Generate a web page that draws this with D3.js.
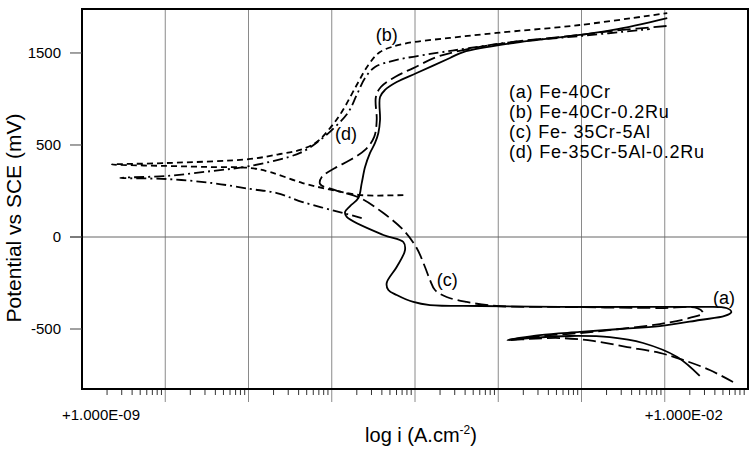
<!DOCTYPE html>
<meta charset="utf-8">
<style>
body { margin: 0; background: #fff; }
svg { font-family: "Liberation Sans", Arial, sans-serif; }
</style>
<svg width="756" height="452"></svg>
<script src="https://d3js.org/d3.v7.min.js"></script>
<script>
// log i (A/cm2) and potential (mV vs SCE)
var curveA = [[-1.58,-755],[-1.85,-652],[-2.26,-576],[-2.66,-544],[-3.14,-538],[-3.62,-549],[-3.89,-560],
  [-3.50,-533],[-3.02,-516],[-2.54,-500],[-2.06,-484],[-1.58,-451],[-1.28,-429],[-1.20,-408],[-1.26,-386],
  [-1.58,-380],[-2.30,-380],[-3.26,-380],[-4.22,-375],[-4.82,-370],[-5.02,-353],[-5.22,-315],[-5.32,-288],
  [-5.34,-250],[-5.22,-163],[-5.12,-71],[-5.14,-27],[-5.38,11],[-5.82,109],[-5.84,136],[-5.78,168],
  [-5.68,212],[-5.64,293],[-5.60,380],[-5.54,457],[-5.48,511],[-5.44,565],[-5.42,636],[-5.42,761],
  [-5.36,799],[-5.22,842],[-4.98,891],[-4.58,973],[-4.42,1005],[-3.82,1054],[-3.02,1098],[-2.62,1125],[-1.97,1190]];

var curveB = [[-5.14,228],[-5.66,228],[-5.99,255],[-6.35,293],[-6.74,353],[-6.98,375],[-7.43,380],[-7.98,386],
  [-8.64,394],[-7.98,402],[-6.98,424],[-6.62,451],[-6.38,473],[-6.18,516],[-6.02,592],[-5.88,679],
  [-5.70,826],[-5.56,935],[-5.42,1005],[-5.14,1049],[-4.58,1082],[-4.02,1109],[-3.02,1152],[-1.97,1217]];

var curveC = [[-1.18,-788],[-1.46,-723],[-1.78,-668],[-2.06,-630],[-2.45,-598],[-2.86,-565],[-3.26,-549],
  [-3.62,-554],[-3.89,-560],[-3.50,-538],[-3.02,-522],[-2.54,-500],[-2.06,-473],[-1.70,-440],[-1.54,-413],
  [-1.61,-386],[-2.06,-386],[-3.26,-380],[-4.02,-375],[-4.38,-353],[-4.62,-326],[-4.76,-288],[-4.82,-234],
  [-4.88,-163],[-4.98,-60],[-5.14,38],[-5.38,130],[-5.66,212],[-5.96,255],[-6.14,288],[-6.12,326],
  [-5.96,375],[-5.78,418],[-5.60,473],[-5.49,544],[-5.46,636],[-5.47,761],[-5.41,815],[-5.24,870],
  [-5.02,918],[-4.74,978],[-4.42,1016],[-3.82,1060],[-3.02,1098],[-2.62,1120],[-1.97,1147]];

var curveD = [[-5.64,103],[-5.86,130],[-6.35,190],[-6.66,239],[-6.98,261],[-7.43,293],[-7.98,315],[-8.54,321],
  [-7.98,332],[-7.43,359],[-6.98,386],[-6.38,457],[-6.14,527],[-5.96,598],[-5.80,679],[-5.70,772],
  [-5.60,864],[-5.48,924],[-5.22,962],[-4.74,1000],[-4.34,1027],[-3.82,1060],[-3.02,1092],[-2.18,1130]];

var yTickValues = [-500, 0, 500, 1000];
var yTickLabels = ["-500", "0", "500", "1500"];
var xTickValues = [-9, -2];
var xTickLabels = ["+1.000E-09", "+1.000E-02"];
var legendItems = ["(a) Fe-40Cr", "(b) Fe-40Cr-0.2Ru", "(c) Fe- 35Cr-5Al", "(d) Fe-35Cr-5Al-0.2Ru"];

var svg = d3.select("svg");
var x = d3.scaleLinear().domain([-9, -1]).range([82, 748]);
var y = d3.scaleLinear().domain([-826, 1239]).range([389, 9]);

// vertical grid at each decade
var decades = d3.range(-8, -1);
svg.append("g").selectAll("line").data(decades).enter().append("line")
  .attr("x1", d => x(d)).attr("x2", d => x(d))
  .attr("y1", y.range()[1]).attr("y2", 402)
  .attr("stroke", "#8a8a8a").attr("stroke-width", 1);

// horizontal line at 0
svg.append("line")
  .attr("x1", 70).attr("x2", x(-1)).attr("y1", y(0)).attr("y2", y(0))
  .attr("stroke", "#666").attr("stroke-width", 1);

// minor ticks under the x axis
var minor = [];
d3.range(-9, -1).forEach(function(d) {
  d3.range(2, 10).forEach(function(k) { minor.push(d + Math.log10(k)); });
});
svg.append("g").selectAll("line").data(minor).enter().append("line")
  .attr("x1", d => x(d)).attr("x2", d => x(d))
  .attr("y1", 389).attr("y2", 395)
  .attr("stroke", "#333").attr("stroke-width", 1);

// frame
svg.append("rect")
  .attr("x", 82).attr("y", 9).attr("width", 666).attr("height", 380)
  .attr("fill", "none").attr("stroke", "#000").attr("stroke-width", 2);

// y ticks
var yt = svg.append("g");
yt.selectAll("line").data(yTickValues).enter().append("line")
  .attr("x1", 70).attr("x2", 82).attr("y1", d => y(d)).attr("y2", d => y(d))
  .attr("stroke", "#444").attr("stroke-width", 1);
yt.selectAll("text").data(yTickValues).enter().append("text")
  .attr("x", 61).attr("y", d => y(d)).attr("dy", "0.35em")
  .attr("text-anchor", "end").attr("font-size", 15)
  .text((d, i) => yTickLabels[i]);

// x tick labels
svg.append("g").selectAll("text").data(xTickValues).enter().append("text")
  .attr("x", d => x(d) + 19).attr("y", 420)
  .attr("text-anchor", "middle").attr("font-size", 15)
  .text((d, i) => xTickLabels[i]);

// axis titles
var xt = svg.append("text").attr("x", 421).attr("y", 442)
  .attr("text-anchor", "middle").attr("font-size", 20);
xt.append("tspan").text("log i (A.cm");
xt.append("tspan").attr("font-size", 12).attr("dy", -8).text("-2");
xt.append("tspan").attr("dy", 8).text(")");

svg.append("text")
  .attr("transform", "translate(21,218) rotate(-90)")
  .attr("text-anchor", "middle").attr("font-size", 21)
  .text("Potential vs SCE (mV)");

// curves
var line = d3.line()
  .x(d => x(d[0])).y(d => y(d[1]))
  .curve(d3.curveCatmullRom.alpha(0.5));

var series = [
  {data: curveA, dash: null},
  {data: curveB, dash: "6,4"},
  {data: curveC, dash: "13,5"},
  {data: curveD, dash: "10,4,2,4"}
];
svg.append("g").selectAll("path").data(series).enter().append("path")
  .attr("d", d => line(d.data))
  .attr("fill", "none").attr("stroke", "#000").attr("stroke-width", 1.8)
  .attr("stroke-dasharray", d => d.dash);

// curve labels
var tags = [["(a)", -1.42, -364], ["(b)", -5.47, 1065], ["(c)", -4.74, -266], ["(d)", -5.96, 527]];
svg.append("g").selectAll("text").data(tags).enter().append("text")
  .attr("x", d => x(d[1])).attr("y", d => y(d[2]))
  .attr("font-size", 18).text(d => d[0]);

// legend
svg.append("g").selectAll("text").data(legendItems).enter().append("text")
  .attr("x", 509).attr("y", (d, i) => 98 + i * 20)
  .attr("font-size", 18).attr("letter-spacing", 0.8)
  .text(d => d);
</script>
